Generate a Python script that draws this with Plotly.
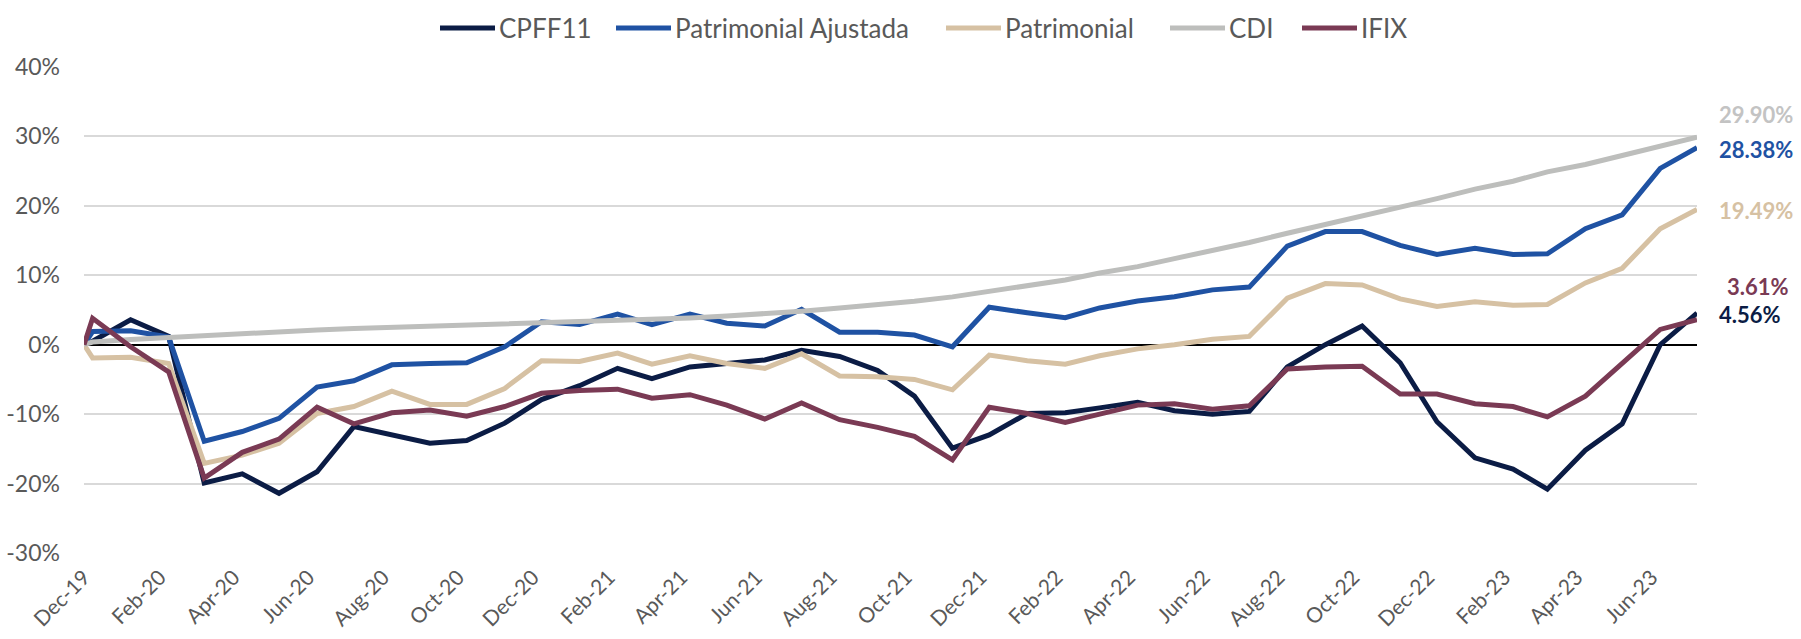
import pandas as pd
import plotly.graph_objects as go

# ---------------- data (cumulative return, %) ----------------
start_date = "2019-12-01"
months = pd.date_range("2019-12-01", periods=44, freq="MS") + pd.Timedelta(days=7)

cpff11 = [0.5, 3.6, 1.2, -19.9, -18.6, -21.4, -18.3, -11.8, -13.0, -14.2, -13.8,
          -11.3, -7.9, -5.9, -3.4, -4.9, -3.2, -2.7, -2.2, -0.8, -1.7, -3.7,
          -7.4, -14.9, -13.0, -9.9, -9.8, -9.1, -8.3, -9.5, -10.0, -9.6, -3.2,
          0.0, 2.7, -2.6, -11.1, -16.3, -17.9, -20.8, -15.2, -11.4, 0.0, 4.56]
patrimonial_ajustada = [1.9, 2.0, 1.1, -13.9, -12.5, -10.6, -6.1, -5.2, -2.9, -2.7, -2.6,
                        -0.3, 3.3, 2.9, 4.4, 2.9, 4.4, 3.1, 2.7, 5.1, 1.8, 1.8,
                        1.4, -0.3, 5.4, 4.6, 3.9, 5.3, 6.3, 6.9, 7.9, 8.3, 14.2,
                        16.3, 16.3, 14.3, 13.0, 13.9, 13.0, 13.1, 16.7, 18.7, 25.4, 28.38]
patrimonial = [-1.9, -1.8, -2.7, -17.1, -15.9, -14.2, -9.9, -8.9, -6.7, -8.6, -8.6,
               -6.3, -2.3, -2.4, -1.2, -2.8, -1.6, -2.7, -3.4, -1.3, -4.5, -4.6,
               -5.0, -6.5, -1.5, -2.3, -2.8, -1.6, -0.6, 0.0, 0.8, 1.2, 6.7,
               8.8, 8.6, 6.6, 5.5, 6.2, 5.7, 5.8, 8.9, 11.0, 16.7, 19.49]
cdi = [0.38, 0.76, 1.05, 1.39, 1.67, 1.92, 2.13, 2.33, 2.49, 2.65, 2.81,
       2.97, 3.13, 3.29, 3.42, 3.63, 3.85, 4.13, 4.45, 4.83, 5.28, 5.74,
       6.26, 6.89, 7.71, 8.50, 9.32, 10.33, 11.25, 12.40, 13.55, 14.72, 16.06,
       17.30, 18.50, 19.71, 21.05, 22.41, 23.54, 24.90, 25.95, 27.25, 28.55, 29.90]
ifix = [3.8, -0.3, -3.9, -19.2, -15.5, -13.6, -9.0, -11.4, -9.8, -9.4, -10.3,
        -8.9, -7.0, -6.6, -6.4, -7.7, -7.2, -8.7, -10.7, -8.4, -10.8, -11.9,
        -13.2, -16.6, -9.0, -9.9, -11.2, -10.0, -8.7, -8.5, -9.3, -8.8, -3.5,
        -3.2, -3.1, -7.1, -7.1, -8.5, -8.9, -10.4, -7.4, -2.7, 2.2, 3.61]

series_names = ["CPFF11", "Patrimonial Ajustada", "Patrimonial", "CDI", "IFIX"]
series_values = [cpff11, patrimonial_ajustada, patrimonial, cdi, ifix]
y_ticks = [-30, -20, -10, 0, 10, 20, 30, 40]

# ---------------- styling / layout ----------------
colors = ["#0B1C45", "#1F52A3", "#D6C1A3", "#BDBEBC", "#7A3A54"]
label_colors = ["#0B1C45", "#1F52A3", "#D6C1A3", "#C3C3C3", "#7A3A54"]
label_y = [4.3, 28.1, 19.3, 33.1, 8.4]        # vertical placement of end labels
label_shift = [20, 20, 20, 20, 28]             # horizontal offset of end labels (px)
legend_x_px = [440, 616, 946, 1170, 1302]      # legend sample start (px from left)
legend_y_px = 28                                # legend row centre (px from top)
legend_len_px = 55
W, H = 1801, 639
M = dict(l=84, r=104, t=67, b=86)
FONT = "Lato, 'Open Sans', sans-serif"
TXT = "#595959"

x_all = [pd.Timestamp(start_date)] + list(months)

fig = go.Figure()
for name, vals, col in zip(series_names, series_values, colors):
    fig.add_trace(go.Scatter(
        x=x_all, y=[0.0] + vals, mode="lines", name=name,
        line=dict(color=col, width=5), hoverinfo="skip", showlegend=False))

for vals, col, ly, sh in zip(series_values, label_colors, label_y, label_shift):
    fig.add_annotation(
        x=x_all[-1], y=ly, xref="x", yref="y", text=f"{vals[-1]:.2f}%",
        showarrow=False, xanchor="left", yanchor="middle", xshift=sh,
        font=dict(family=FONT, size=22, color=col, weight="bold"))

# legend row (line sample + name), positioned like the original chart
pw = W - M["l"] - M["r"]
ph = H - M["t"] - M["b"]
ly_paper = 1 + (M["t"] - legend_y_px) / ph
for name, col, lx in zip(series_names, colors, legend_x_px):
    x0 = (lx - M["l"]) / pw
    x1 = (lx + legend_len_px - M["l"]) / pw
    fig.add_shape(type="line", xref="paper", yref="paper", x0=x0, x1=x1,
                  y0=ly_paper, y1=ly_paper, line=dict(color=col, width=5))
    fig.add_annotation(x=x1, y=ly_paper, xref="paper", yref="paper", text=name,
                       showarrow=False, xanchor="left", yanchor="middle", xshift=2,
                       font=dict(family=FONT, size=26, color=TXT))

fig.update_layout(
    width=W, height=H,
    margin=dict(**M, autoexpand=False),
    plot_bgcolor="white", paper_bgcolor="white",
    font=dict(family=FONT, color=TXT),
    showlegend=False,
)
fig.update_xaxes(
    type="date", range=[start_date, x_all[-1]],
    tick0=start_date, dtick="M2", tickformat="%b-%y", tickangle=-45,
    showgrid=False, zeroline=False, showline=False, ticks="",
    tickfont=dict(family=FONT, size=21, color=TXT), ticklabelstandoff=7)
fig.update_yaxes(
    range=[-30, 40], tickvals=y_ticks, ticktext=[f"{v}%" for v in y_ticks],
    showgrid=True, gridcolor="#D9D9D9", gridwidth=1.5,
    zeroline=True, zerolinecolor="#000000", zerolinewidth=1.5,
    showline=False, ticks="",
    tickfont=dict(family=FONT, size=23, color=TXT), ticklabelstandoff=23)

fig.write_html("out.html", config={"displayModeBar": False},
               post_script="document.body.style.margin='0px';")
